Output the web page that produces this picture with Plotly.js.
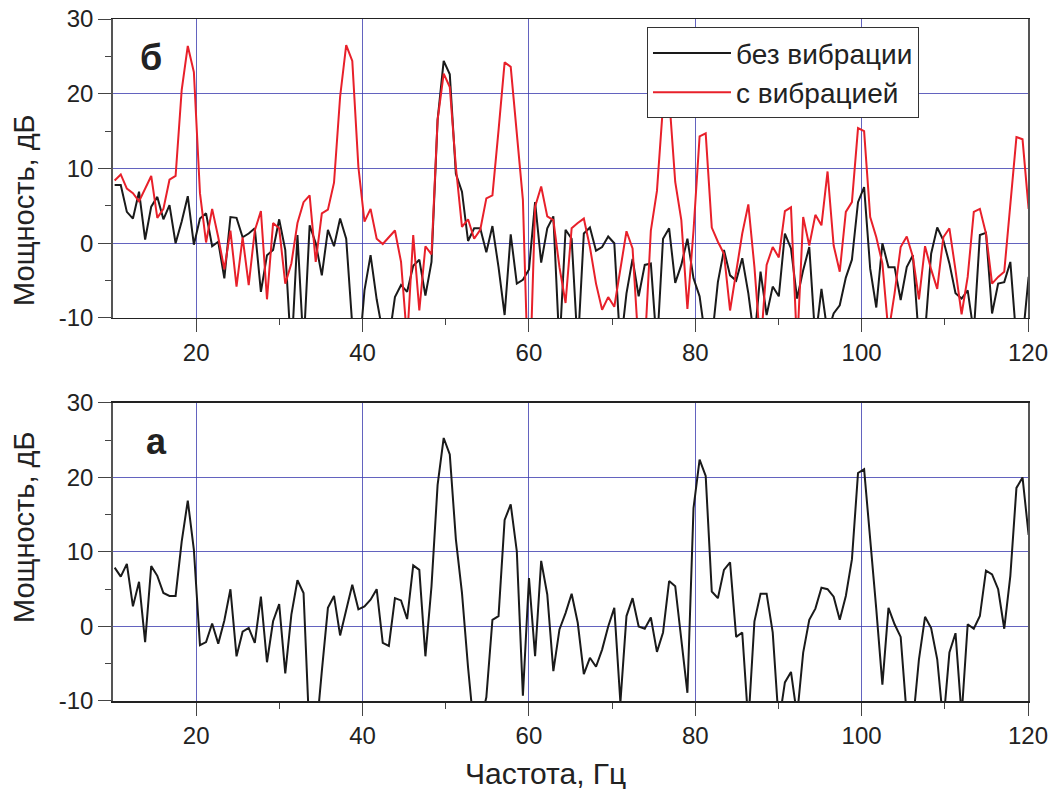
<!DOCTYPE html>
<html>
<head>
<meta charset="utf-8">
<script src="https://cdn.plot.ly/plotly-3.0.1.min.js"></script>
<style>html,body{margin:0;padding:0;background:#fff;}#chart{width:1050px;height:789px;}</style>
</head>
<body>
<div id="chart"></div>
<script>
// Frequency bins: first bin (Hz) and bin width (Hz)
const F0 = 10.2;
const DF = 0.7325;

// Top panel (б): power without vibration, dB
const topNoVib = [7.8,7.8,4.2,3.3,6.9,0.5,4.9,6.2,3.2,5.1,
0.0,2.9,6.3,-0.2,3.3,4.0,-0.4,0.2,-4.7,3.5,
3.4,0.8,1.3,2.0,-6.5,-1.6,-0.9,3.2,-0.9,-15,
1.1,-14,2.4,0.0,-4.3,1.8,-0.4,3.3,0.6,-11,
-16,-6.3,-1.6,-7.5,-12,-13,-7.2,-5.6,-6.5,-3.0,
-2.2,-7.0,-2.5,16.5,24.4,22.6,9.3,6.9,0.3,2.0,
2.0,-1.2,2.3,-3.2,-9.6,1.2,-5.4,-4.9,-3.5,5.5,
-2.6,2.0,3.6,-14,1.8,0.6,-14,1.3,2.1,-1.0,
-0.5,0.9,0.0,-14,-6.7,-2.1,-7.1,-2.9,-2.7,-14,
0.6,2.0,-5.3,-2.9,0.6,-4.7,-7.1,-13,-13,-5.2,
-0.9,-4.3,-5.0,-2.0,-6.7,-13,-3.8,-9.6,-5.8,-7.1,
1.3,-0.7,-7.4,-3.6,-0.5,-13,-6.1,-12,-9.4,-8.3,
-4.6,-2.2,5.5,7.5,-3.4,-8.6,0.0,-3.2,-3.2,-7.6,
-3.2,-1.6,-13,-12,-1.4,2.1,0.4,-2.7,-6.7,-7.4,
-6.3,-12,1.1,1.4,-9.4,-5.4,-5.2,-2.5,-13,-13,
-4.5];

// Top panel (б): power with vibration, dB
const topVib = [8.4,9.2,7.3,6.7,5.6,7.3,9.0,3.4,4.6,8.5,
9.0,20.5,26.4,22.9,6.7,0.1,4.6,0.8,-3.5,1.7,
-5.8,0.8,-5.6,1.7,4.3,-7.5,2.7,2.0,-5.4,-2.7,
2.7,5.5,6.4,-2.5,4.0,4.5,8.1,19.6,26.5,24.4,
10.2,2.9,4.6,0.6,-0.1,0.8,1.7,-2.5,-13,1.1,
-9,-0.4,-1.5,16.5,22.7,20.9,10.2,2.2,3.2,0.6,
1.8,6.0,6.4,15.1,24.2,23.6,14.7,5.8,-22,4.9,
7.6,3.6,3.1,-3.2,-8.0,2.0,2.7,3.3,-0.5,-5.4,
-8.9,-7.2,-8.5,-3.2,1.6,-0.7,-14,-14,1.7,7.0,
18.5,19.6,8.2,3.1,-8.8,1.7,14.3,14.7,2.1,0.2,
-1.4,-9.0,-4.1,1.3,5.2,-3.2,-14,-2.9,-0.5,-1.9,
4.3,4.8,-14,3.5,-0.3,3.8,2.4,9.6,-0.3,-3.8,
4.2,5.5,15.4,15.0,3.5,0.8,-2.7,-12,-6.7,-0.5,
0.9,-1.8,-7.5,-0.4,-3.5,-6.1,0.8,2.0,-3.6,-9.5,
-4.5,4.2,4.6,1.3,-5.4,-4.5,-3.8,4.9,14.2,13.9,
4.6];

// Bottom panel (а): power, dB
const bottomPower = [7.9,6.7,8.4,2.7,6.0,-2.1,8.1,6.8,4.5,4.1,
4.1,11.4,16.9,10.3,-2.5,-2.1,0.4,-2.3,0.8,5.0,
-4.0,-0.7,-0.2,-2.2,4.0,-4.8,0.7,3.0,-6.3,1.6,
6.2,4.5,-15,-15,-6.0,2.5,4.1,-1.2,2.2,5.6,
2.3,2.7,3.6,5.0,-2.2,-2.6,3.8,3.5,1.0,8.2,
7.6,-4.0,5.4,19.0,25.3,23.1,11.7,4.5,-5.5,-14,
-13,-9.5,0.9,1.4,14.3,16.4,10.1,-9.3,6.5,-4.0,
8.8,4.3,-6.0,-0.4,1.8,4.4,0.5,-6.4,-4.2,-5.4,
-3.1,0.0,2.5,-10.2,1.4,3.8,0.0,-0.3,1.2,-3.4,
-0.8,6.1,5.4,-1.5,-8.9,15.9,22.4,20.2,4.7,3.8,
7.6,8.6,-1.4,-0.8,-13,0.7,4.4,4.4,-0.8,-13,
-7.5,-6.1,-12,-3.5,0.9,2.4,5.2,5.0,4.0,0.9,
4.1,9.0,20.6,21.1,12.1,2.3,-7.8,2.5,0.3,-1.4,
-12,-13,-4.4,1.3,-0.2,-4.4,-13,-3.5,-0.9,-12,
0.3,-0.3,1.4,7.5,7.0,5.0,-0.3,6.8,18.6,20.0,
12.3];

const xTickVals = [20,40,60,80,100,120];
const xTickText = ['20','40','60','80','100','120'];
const yTickVals = [-10,0,10,20,30];
const yTickText = ['-10','0','10','20','30'];
const seriesNames = ['без вибрации','с вибрацией'];
const panelLabels = ['б','а'];
const yTitle = 'Мощность, дБ';
const xTitle = 'Частота, Гц';

const BLACK = '#1a1a1a';
const RED = '#e8202a';
const GRID = 'rgba(60,60,175,0.8)';
const regular = '"Liberation Sans",Arial,sans-serif';

const traces = [
  {type:'scatter', mode:'lines', x0:F0, dx:DF, y:topNoVib, name:seriesNames[0],
   line:{color:BLACK, width:2}, xaxis:'x', yaxis:'y'},
  {type:'scatter', mode:'lines', x0:F0, dx:DF, y:topVib, name:seriesNames[1],
   line:{color:RED, width:2}, xaxis:'x', yaxis:'y'},
  {type:'scatter', mode:'lines', x0:F0, dx:DF, y:bottomPower, name:'а',
   line:{color:BLACK, width:2}, xaxis:'x2', yaxis:'y2', showlegend:false}
];

function xAxis(anchor){
  return {
    range:[10,120], anchor:anchor, tickmode:'array', tickvals:xTickVals, ticktext:xTickText,
    ticks:'outside', ticklen:13, tickwidth:1, tickcolor:'#444',
    showline:true, linecolor:'#222', linewidth:1.5, mirror:true,
    showgrid:true, gridcolor:GRID, gridwidth:1, zeroline:false,
    tickfont:{family:regular, size:24, color:'#222'},
    minor:{tickvals:[30,50,70,90,110], ticks:'outside', ticklen:6, tickcolor:'#444', showgrid:false}
  };
}
function yAxis(anchor, dom){
  return {
    range:[-10,30], domain:dom, anchor:anchor, tickmode:'array', tickvals:yTickVals, ticktext:yTickText,
    ticks:'outside', ticklen:13, tickwidth:1, tickcolor:'#444',
    showline:true, linecolor:'#555', linewidth:1.8, mirror:true,
    showgrid:true, gridcolor:GRID, gridwidth:1, zeroline:false,
    tickfont:{family:regular, size:24, color:'#222'},
    minor:{tickvals:[-5,5,15,25], ticks:'outside', ticklen:6, tickcolor:'#444', showgrid:false}
  };
}

const layout = {
  width:1050, height:789,
  margin:{l:113, r:22, t:19, b:88},
  paper_bgcolor:'#fff', plot_bgcolor:'#fff',
  showlegend:true,
  xaxis: xAxis('y'),
  yaxis: yAxis('x', [0.5616, 1.0]),
  xaxis2: xAxis('y2'),
  yaxis2: yAxis('x2', [0, 0.437]),
  legend:{x:0.5836, y:0.988, xanchor:'left', yanchor:'top', bgcolor:'#fff',
    bordercolor:'#333', borderwidth:1, font:{family:regular, size:28, color:'#222'},
    itemwidth:78, traceorder:'normal'},
  annotations:[
    {xref:'x domain', yref:'y domain', x:0.042, y:0.87, text:'<b>'+panelLabels[0]+'</b>', showarrow:false,
     font:{family:regular, size:36, color:'#222'}, xanchor:'center', yanchor:'middle'},
    {xref:'x2 domain', yref:'y2 domain', x:0.047, y:0.87, text:'<b>'+panelLabels[1]+'</b>', showarrow:false,
     font:{family:regular, size:36, color:'#222'}, xanchor:'center', yanchor:'middle'},
    {xref:'paper', yref:'paper', x:0.473, y:-0.107, text:xTitle, showarrow:false,
     font:{family:regular, size:30, color:'#222'}, xanchor:'center', yanchor:'middle'},
    {xref:'paper', yref:'paper', x:-0.0973, y:0.72, text:yTitle, showarrow:false, textangle:-90,
     font:{family:regular, size:29, color:'#222'}, xanchor:'center', yanchor:'middle'},
    {xref:'paper', yref:'paper', x:-0.0973, y:0.255, text:yTitle, showarrow:false, textangle:-90,
     font:{family:regular, size:29, color:'#222'}, xanchor:'center', yanchor:'middle'}
  ]
};

Plotly.newPlot('chart', traces, layout, {displayModeBar:false, staticPlot:true});
</script>
</body>
</html>
